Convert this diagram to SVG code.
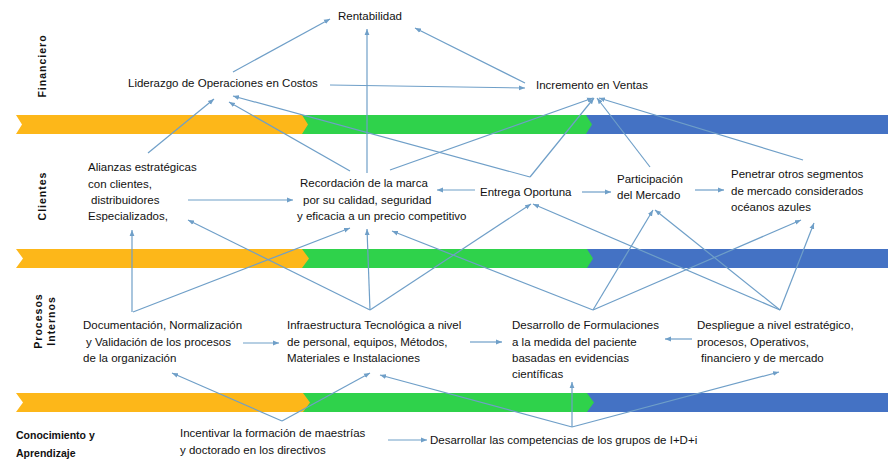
<svg xmlns="http://www.w3.org/2000/svg" width="888" height="460" viewBox="0 0 888 460">
<style>
.t{font-family:"Liberation Sans",Arial,sans-serif;font-size:11.5px;fill:#111}
.lb{font-family:"Liberation Sans",Arial,sans-serif;font-size:10.5px;font-weight:bold;fill:#111}
.c{stroke:#6F9FC8;stroke-width:1.2;fill:none;marker-end:url(#ah)}
.o{fill:#FDB719}.g{fill:#2FD24B}.b{fill:#4472C4}
</style>
<defs>
<marker id="ah" viewBox="0 0 10 10" refX="10" refY="5" markerWidth="6" markerHeight="6" markerUnits="userSpaceOnUse" orient="auto"><path d="M0,1 L10,5 L0,9 z" fill="#6F9FC8"/></marker>
</defs>
<rect width="888" height="460" fill="#fff"/>
<g id="bands">
<rect class="b" x="585" y="115" width="303" height="19"/>
<polygon class="g" points="300,115 586,115 592,124.5 586,134 300,134"/>
<polygon class="o" points="16,115 302,115 308,124.5 302,134 16,134 22,124.5"/>
<rect class="b" x="585" y="249" width="303" height="19"/>
<polygon class="g" points="300,249 587,249 593,258.5 587,268 300,268"/>
<polygon class="o" points="16,249 302,249 309,258.5 302,268 16,268 23,258.5"/>
<rect class="b" x="585" y="393" width="303" height="19"/>
<polygon class="g" points="300,393 587,393 594,402.5 587,412 300,412"/>
<polygon class="o" points="16,393 303,393 310,402.5 303,412 16,412 23,402.5"/>
</g>
<g id="labels">
<text class="lb" transform="translate(46,66) rotate(-90)" text-anchor="middle" letter-spacing="1">Financiero</text>
<text class="lb" transform="translate(46,196) rotate(-90)" text-anchor="middle" letter-spacing="1">Clientes</text>
<text class="lb" transform="translate(42,321) rotate(-90)" text-anchor="middle" letter-spacing="1">Procesos</text>
<text class="lb" transform="translate(55,321) rotate(-90)" text-anchor="middle" letter-spacing="1">Internos</text>
<text class="lb" x="16" y="439">Conocimiento y</text>
<text class="lb" x="16" y="457">Aprendizaje</text>
</g>
<g id="connectors">
<path class="c" d="M233,72 L330,19"/>
<path class="c" d="M367,173 L367,29"/>
<path class="c" d="M525,83 L415,28"/>
<path class="c" d="M330,85 L525,88"/>
<path class="c" d="M148,153 L214,99"/>
<path class="c" d="M350,171 L229,102"/>
<path class="c" d="M530,177 L233,96"/>
<path class="c" d="M390,170 L593,98"/>
<path class="c" d="M530,177 L594,98"/>
<path class="c" d="M650,167 L597,98"/>
<path class="c" d="M803,160 L599,98"/>
<path class="c" d="M188,200 L293,200"/>
<path class="c" d="M475,190 L437,190"/>
<path class="c" d="M582,192 L611,192"/>
<path class="c" d="M695,190 L724,190"/>
<path class="c" d="M132,312 L132,230"/>
<path class="c" d="M133,312 L350,228"/>
<path class="c" d="M370,310 L188,220"/>
<path class="c" d="M370,310 L367,229"/>
<path class="c" d="M370,310 L531,204"/>
<path class="c" d="M593,310 L392,231"/>
<path class="c" d="M593,310 L653,210"/>
<path class="c" d="M593,310 L801,220"/>
<path class="c" d="M780,310 L533,204"/>
<path class="c" d="M780,310 L655,210"/>
<path class="c" d="M780,310 L814,223"/>
<path class="c" d="M243,343 L279,343"/>
<path class="c" d="M470,342 L502,342"/>
<path class="c" d="M692,339 L665,339"/>
<path class="c" d="M282,421 L172,373"/>
<path class="c" d="M282,421 L370,373"/>
<path class="c" d="M572,427 L380,375"/>
<path class="c" d="M572,427 L572,382"/>
<path class="c" d="M572,427 L779,372"/>
<path class="c" d="M388,440 L427,440"/>
</g>
<g id="rentabilidad"><text class="t" x="338" y="20">Rentabilidad</text></g>
<g id="liderazgo"><text class="t" x="128" y="87">Liderazgo de Operaciones en Costos</text></g>
<g id="incremento"><text class="t" x="536" y="89">Incremento en Ventas</text></g>
<g id="alianzas"><text class="t" x="88" y="171">Alianzas estratégicas</text><text class="t" x="88" y="187.5">con clientes,</text><text class="t" x="91" y="204">distribuidores</text><text class="t" x="88" y="220">Especializados,</text></g>
<g id="recordacion"><text class="t" x="300" y="187">Recordación de la marca</text><text class="t" x="303" y="204">por su calidad, seguridad</text><text class="t" x="297" y="220">y eficacia a un precio competitivo</text></g>
<g id="entrega"><text class="t" x="480" y="196">Entrega Oportuna</text></g>
<g id="participacion"><text class="t" x="617" y="183">Participación</text><text class="t" x="617" y="199">del Mercado</text></g>
<g id="penetrar"><text class="t" x="731" y="178">Penetrar otros segmentos</text><text class="t" x="731" y="194.5">de mercado considerados</text><text class="t" x="731" y="211">océanos azules</text></g>
<g id="documentacion"><text class="t" x="83" y="329">Documentación, Normalización</text><text class="t" x="86" y="346">y Validación de los procesos</text><text class="t" x="83" y="362">de la organización</text></g>
<g id="infraestructura"><text class="t" x="287" y="329">Infraestructura Tecnológica a nivel</text><text class="t" x="287" y="346">de personal, equipos, Métodos,</text><text class="t" x="287" y="362">Materiales e Instalaciones</text></g>
<g id="desarrollo"><text class="t" x="512" y="329">Desarrollo de Formulaciones</text><text class="t" x="512" y="346">a la medida del paciente</text><text class="t" x="512" y="362">basadas en evidencias</text><text class="t" x="512" y="378">científicas</text></g>
<g id="despliegue"><text class="t" x="697" y="329">Despliegue a nivel estratégico,</text><text class="t" x="697" y="346">procesos, Operativos,</text><text class="t" x="701" y="362">financiero y de mercado</text></g>
<g id="incentivar"><text class="t" x="180" y="437">Incentivar la formación de maestrías</text><text class="t" x="180" y="454">y doctorado en los directivos</text></g>
<g id="desarrollar"><text class="t" x="430" y="444">Desarrollar las competencias de los grupos de I+D+i</text></g>
</svg>
